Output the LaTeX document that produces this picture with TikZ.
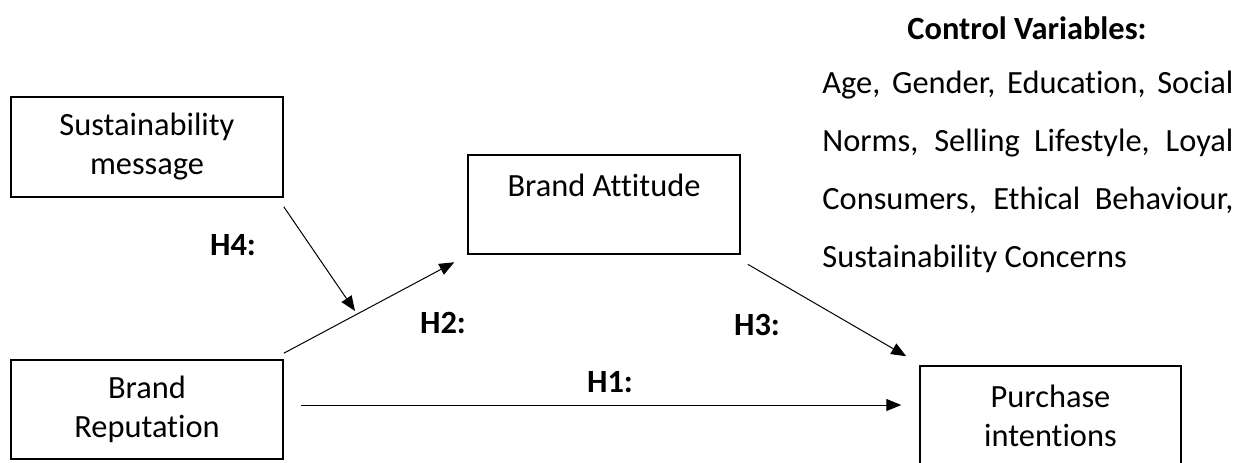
\documentclass[tikz,border=0pt]{standalone}
\usepackage{fontspec}
\setmainfont{Carlito}[Ligatures=NoCommon]
\usetikzlibrary{arrows.meta}
\begin{document}
\begin{tikzpicture}[x=0.5pt,y=-0.5pt,
  box/.style={draw, line width=0.75pt, inner sep=0pt, align=center, font=\fontsize{16.2}{19.5}\selectfont},
  lbl/.style={inner sep=0pt, font=\bfseries\fontsize{16.2}{19.5}\selectfont},
  cvtext/.style={inner sep=0pt, anchor=base west, font=\fontsize{16.2}{19.5}\selectfont},
  conn/.style={line width=0.5pt, -{Triangle[length=7.5pt,width=6pt]}}]
\useasboundingbox (0,0) rectangle (1245,462);
\clip (0,0) rectangle (1245,462);
\node[box, minimum width=136pt, minimum height=50pt] (sm) at (147,147) {Sustainability\\message};
\node[box, minimum width=136pt, minimum height=49.5pt] (br) at (147,409.5) {Brand\\Reputation};
\node[box, minimum width=136pt, minimum height=49.5pt] (ba) at (604,204.5) {Brand Attitude\\\mbox{}};
\node[box, minimum width=130.5pt, minimum height=50pt] (pi) at (1050.5,416) {Purchase\\intentions};
\coordinate (h4e) at (355,311);
\draw[conn] ([yshift=-4.5pt]sm.south east) -- (h4e);
\draw[conn] ([yshift=3pt]br.north east) -- ([xshift=-6.5pt,yshift=-3.75pt]ba.south west);
\draw[conn] ([xshift=3.5pt,yshift=-4.75pt]ba.south east) -- ([xshift=-6.5pt,yshift=4.5pt]pi.north west);
\draw[conn] ([xshift=8.5pt,yshift=2.25pt]br.east) -- ([xshift=-9pt,yshift=5.5pt]pi.west);
\node[lbl] (l4) at (233,245) {H4:};
\node[lbl] (l2) at (443,323) {H2:};
\node[lbl] (l1) at (610,382) {H1:};
\node[lbl] (l3) at (757,325) {H3:};
\node[lbl] (cvh) at (1027,28) {Control Variables:};
\node[cvtext] (cv1) at (822,93) {\makebox[205.5pt][s]{Age, Gender, Education, Social}};
\node[cvtext] (cv2) at (822,151) {\makebox[205.5pt][s]{Norms, Selling Lifestyle, Loyal}};
\node[cvtext] (cv3) at (822,209) {\makebox[205.5pt][s]{Consumers, Ethical Behaviour,}};
\node[cvtext] (cv4) at (822,267) {Sustainability Concerns};
\end{tikzpicture}
\end{document}
